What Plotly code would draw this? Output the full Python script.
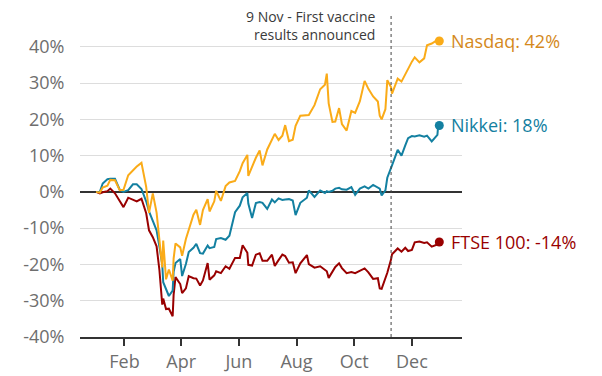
import plotly.graph_objects as go

dates = [
    "2020-01-02", "2020-01-06", "2020-01-09", "2020-01-14", "2020-01-17", "2020-01-22",
    "2020-01-27", "2020-01-31", "2020-02-05", "2020-02-10", "2020-02-14", "2020-02-19",
    "2020-02-24", "2020-02-27", "2020-03-02", "2020-03-06", "2020-03-09", "2020-03-12",
    "2020-03-13", "2020-03-16", "2020-03-19", "2020-03-23", "2020-03-24", "2020-03-26",
    "2020-03-31", "2020-04-02", "2020-04-06", "2020-04-09", "2020-04-14", "2020-04-17",
    "2020-04-21", "2020-04-24", "2020-04-29", "2020-05-01", "2020-05-06", "2020-05-08",
    "2020-05-13", "2020-05-18", "2020-05-22", "2020-05-28", "2020-06-02", "2020-06-05",
    "2020-06-10", "2020-06-11", "2020-06-15", "2020-06-19", "2020-06-23", "2020-06-26",
    "2020-07-01", "2020-07-06", "2020-07-09", "2020-07-13", "2020-07-17", "2020-07-20",
    "2020-07-24", "2020-07-28", "2020-07-31", "2020-08-05", "2020-08-12", "2020-08-14",
    "2020-08-20", "2020-08-26", "2020-08-31", "2020-09-02", "2020-09-04", "2020-09-08",
    "2020-09-11", "2020-09-15", "2020-09-18", "2020-09-23", "2020-09-28", "2020-10-02",
    "2020-10-07", "2020-10-12", "2020-10-16", "2020-10-21", "2020-10-26", "2020-10-28",
    "2020-10-30", "2020-11-03", "2020-11-05", "2020-11-09", "2020-11-10", "2020-11-16",
    "2020-11-20", "2020-11-24", "2020-11-27", "2020-12-01", "2020-12-04", "2020-12-09",
    "2020-12-14", "2020-12-17", "2020-12-22", "2020-12-28", "2020-12-29", "2020-12-30",
]

nasdaq = [
    0.0, -0.2, 1.2, 1.7, 3.3, 3.2,
    0.5, 0.6, 4.6, 5.9, 7.0, 8.0,
    1.4, -5.8, -0.4, -5.7, -12.6, -20.8,
    -13.4, -24.1, -21.4, -24.5, -18.4, -14.2,
    -15.3, -17.6, -13.0, -10.3, -6.3, -4.9,
    -9.1, -5.0, -2.0, -5.4, -2.6, 0.3,
    -2.5, 1.6, 2.6, 3.0, 5.7, 7.9,
    10.2, 4.4, 7.0, 9.4, 11.4, 7.3,
    11.7, 14.7, 16.0, 14.3, 15.5, 18.4,
    14.0, 14.4, 18.2, 21.0, 21.1, 21.2,
    23.9, 28.3, 29.5, 32.6, 24.4, 19.3,
    19.4, 23.1, 18.7, 16.9, 22.3, 21.8,
    25.0, 30.6, 28.4, 26.3, 24.9, 21.0,
    20.0, 22.8, 30.8, 28.8, 27.1, 31.2,
    30.4, 32.4, 34.2, 35.9, 37.1, 35.7,
    36.8, 40.4, 40.9, 41.9, 41.3, 41.6,
]

nikkei = [
    0.0, 0.0, 2.3, 3.5, 3.6, 3.6,
    0.6, 0.0, 0.5, 2.1, 2.1, 0.8,
    -2.6, -5.4, -8.0, -10.6, -15.1, -20.0,
    -24.9, -26.7, -28.7, -27.2, -22.0, -19.6,
    -18.5, -23.2, -19.9, -16.6, -15.4, -14.3,
    -16.9, -17.0, -14.8, -15.5, -15.2, -13.0,
    -12.7, -13.2, -12.1, -5.6, -3.8, -1.5,
    -0.3, -3.2, -7.2, -3.1, -2.8, -3.0,
    -4.7, -2.1, -2.9, -1.8, -2.2, -2.1,
    -2.0, -2.4, -6.4, -3.0, -1.6, 0.4,
    -1.4, 0.4, -0.3, 0.2, 0.0, 0.3,
    0.9, 1.1, 0.7, 0.6, 1.3, -0.8,
    0.9, 1.5, 0.9, 1.9, 1.2, 0.9,
    -1.0, 0.4, 3.9, 7.0, 7.3, 11.6,
    10.0, 12.8, 14.8, 15.4, 15.3, 15.6,
    15.2, 15.5, 13.9, 15.7, 18.8, 18.3,
]

ftse = [
    0.0, -0.4, -0.1, 0.2, 0.9, -0.4,
    -2.5, -4.2, -1.6, -2.1, -2.6, -1.9,
    -5.9, -10.6, -12.5, -15.0, -21.6, -31.1,
    -29.4, -32.3, -32.2, -34.3, -28.4, -23.5,
    -25.4, -27.9, -26.6, -23.2, -23.8, -23.9,
    -25.8, -24.4, -19.6, -24.2, -23.0, -21.9,
    -22.4, -20.5, -21.2, -18.2, -18.2, -14.7,
    -16.8, -20.1, -20.3, -17.3, -16.9, -19.0,
    -19.0, -17.3, -20.4, -18.8, -17.3, -17.7,
    -19.5, -19.4, -22.4, -19.7, -17.4, -19.9,
    -20.9, -20.5, -21.6, -21.9, -23.7, -22.0,
    -20.7, -19.7, -21.0, -22.4, -22.1, -22.4,
    -21.8, -21.1, -22.2, -24.0, -23.8, -26.6,
    -26.7, -23.9, -22.3, -18.6, -17.2, -15.6,
    -16.5, -15.4, -16.3, -16.0, -13.9, -13.7,
    -14.1, -13.9, -15.1, -14.5, -13.2, -13.8,
]

series_names = ["FTSE 100", "Nikkei", "Nasdaq"]
series_values = [ftse, nikkei, nasdaq]
line_colors = ["#990000", "#1380A1", "#FAAB18"]
label_colors = ["#990000", "#1380A1", "#D4891C"]

y_ticks = [-40, -30, -20, -10, 0, 10, 20, 30, 40]
y_tick_labels = [f"{v}%" for v in y_ticks]
x_ticks = ["2020-02-01", "2020-04-01", "2020-06-01", "2020-08-01", "2020-10-01", "2020-12-01"]
x_tick_labels = ["Feb", "Apr", "Jun", "Aug", "Oct", "Dec"]

event_date = "2020-11-09"
event_text = "9 Nov - First vaccine<br>results announced"

FONT = "Open Sans"

fig = go.Figure()
for name, vals, lc in zip(series_names, series_values, line_colors):
    fig.add_trace(go.Scatter(x=dates, y=vals, mode="lines", name=name,
                             line=dict(color=lc, width=2)))
for name, vals, lc, tc in zip(series_names, series_values, line_colors, label_colors):
    fig.add_trace(go.Scatter(x=[dates[-1]], y=[vals[-1]], mode="markers",
                             marker=dict(color=lc, size=9), cliponaxis=False,
                             showlegend=False))
    fig.add_annotation(x=dates[-1], y=vals[-1], text=f"{name}: {round(vals[-1]):.0f}%",
                       showarrow=False, xanchor="left", yanchor="middle", xshift=10,
                       font=dict(family=FONT, size=18, color=tc))

fig.add_shape(type="line", x0=event_date, x1=event_date, xref="x", yref="paper",
              y0=0, y1=1.032, line=dict(color="#444444", width=1, dash="3px,3px"))
fig.add_annotation(x=event_date, xref="x", y=1.0, yref="paper", text=event_text,
                   showarrow=False, xanchor="right", yanchor="middle", align="right",
                   xshift=-14, font=dict(family=FONT, size=14, color="#3a3a3a"))

fig.update_layout(
    width=602, height=376,
    margin=dict(l=80, r=140, t=25, b=39),
    paper_bgcolor="white", plot_bgcolor="white",
    showlegend=False, hovermode=False,
    font=dict(family=FONT),
    xaxis=dict(range=["2019-12-16", "2021-01-23"], tickvals=x_ticks, ticktext=x_tick_labels,
               showgrid=False, showline=True, linecolor="#333333", linewidth=2,
               ticks="outside", ticklen=7, tickwidth=1.5, tickcolor="#333333",
               tickfont=dict(family=FONT, size=18, color="#6e6e6e"), zeroline=False,
               automargin=False),
    yaxis=dict(range=[-40, 46], tickvals=y_ticks, ticktext=y_tick_labels,
               showgrid=True, gridcolor="#dddddd", gridwidth=1,
               zeroline=True, zerolinecolor="#333333", zerolinewidth=2,
               ticks="outside", ticklen=11, tickcolor="rgba(0,0,0,0)",
               tickfont=dict(family=FONT, size=18, color="#6e6e6e"), showline=False,
               automargin=False),
)

fig.write_html("out.html", config={"responsive": False, "displayModeBar": False},
               post_script="document.body.style.margin='0';document.body.style.padding='0';")
